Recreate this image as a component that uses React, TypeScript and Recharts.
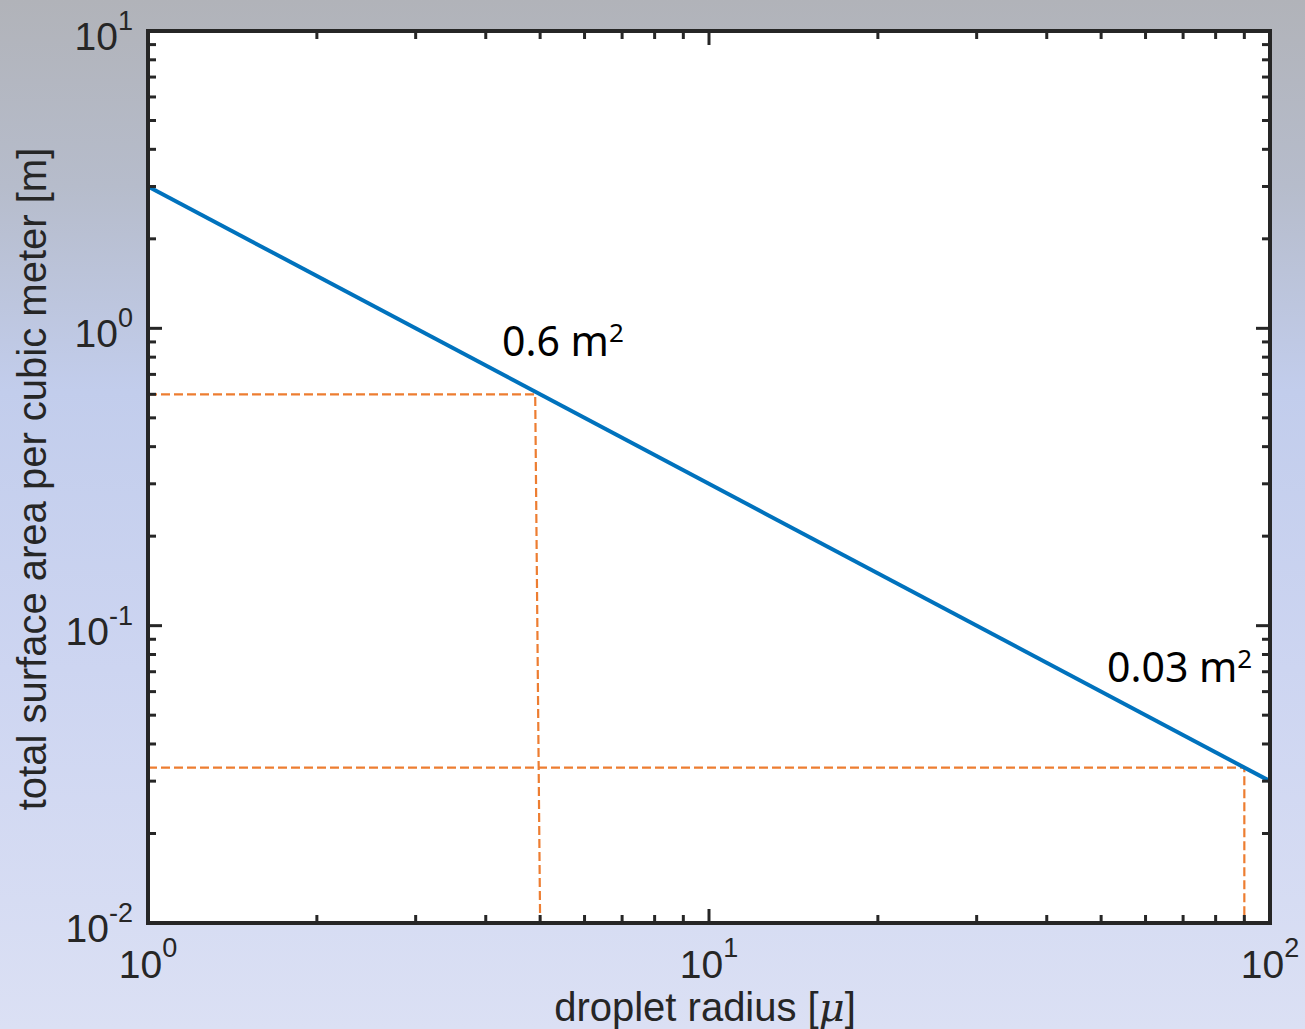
import React from 'react';
import { LineChart, Line, XAxis, YAxis } from 'recharts';

// total surface area vs droplet radius, log-log
const radiusTicks = [1, 2, 3, 4, 5, 6, 7, 8, 9, 10, 20, 30, 40, 50, 60, 70, 80, 90, 100];
const areaTicks = [
  0.01, 0.02, 0.03, 0.04, 0.05, 0.06, 0.07, 0.08, 0.09,
  0.1, 0.2, 0.3, 0.4, 0.5, 0.6, 0.7, 0.8, 0.9,
  1, 2, 3, 4, 5, 6, 7, 8, 9, 10,
];

const areaCurve = [
  { x: 1, y: 3 },
  { x: 100, y: 0.03 },
];

// guide lines for the two marked points
const guide5 = [
  { x: 1, y: 0.6 },
  { x: 4.9, y: 0.6 },
  { x: 5, y: 0.01 },
];
const guide90 = [
  { x: 1, y: 0.0333 },
  { x: 90, y: 0.0333 },
  { x: 90, y: 0.01 },
];

const W = 1305;
const H = 1029;
const INK = '#262626';
const FONT = '"Liberation Sans", Helvetica, Arial, sans-serif';
const NOTE_FONT = '"Noto Sans", "Open Sans", sans-serif';

const isDecade = (v: number) => Math.abs(Math.log10(v) - Math.round(Math.log10(v))) < 1e-9;

const Pow10 = ({ v, x, y, anchor, supDy }: any) => (
  <text x={x} y={y} textAnchor={anchor} fontFamily={FONT} fontSize={39} fill={INK}>
    <tspan>10</tspan>
    <tspan dy={supDy} fontSize={27}>{String(Math.round(Math.log10(v)))}</tspan>
  </text>
);

const makeTick = (side: 'bottom' | 'top' | 'left' | 'right', labelled: boolean) => (props: any) => {
  const { x, y, payload } = props;
  const v = payload.value;
  const major = isDecade(v);
  const len = major ? 14 : 8;
  let line;
  if (side === 'bottom') line = <line x1={x} x2={x} y1={y} y2={y - len} />;
  else if (side === 'top') line = <line x1={x} x2={x} y1={y} y2={y + len} />;
  else if (side === 'left') line = <line x1={x} x2={x + len} y1={y} y2={y} />;
  else line = <line x1={x} x2={x - len} y1={y} y2={y} />;
  return (
    <g>
      <g stroke={INK} strokeWidth={3}>{line}</g>
      {labelled && major && side === 'bottom' && (
        <Pow10 v={v} x={x} y={y + 55} anchor="middle" supDy={-21} />
      )}
      {labelled && major && side === 'left' && (
        <Pow10 v={v} x={x - 15} y={y + 19} anchor="end" supDy={-20} />
      )}
    </g>
  );
};

const axisLine = { stroke: INK, strokeWidth: 4, strokeLinecap: 'square' as const };

const App: React.FC = () => {
  return (
    <div
      style={{
        position: 'absolute',
        left: 0,
        top: 0,
        width: W,
        height: H,
        background:
          'linear-gradient(180deg, #b1b3b9 0%, #b6bccb 18%, #c2cdec 38%, #cdd5f1 65%, #dbe0f4 100%)',
      }}
    >
      <LineChart width={W} height={H} margin={{ top: 0, right: 0, bottom: 0, left: 0 }}>
        <rect x={148} y={31} width={1121} height={892} fill="#ffffff" />
        <XAxis
          xAxisId="b"
          dataKey="x"
          type="number"
          scale="log"
          domain={[1, 100]}
          ticks={radiusTicks}
          interval={0}
          orientation="bottom"
          height={106}
          tickSize={0}
          tickMargin={0}
          tickLine={false}
          axisLine={axisLine}
          tick={makeTick('bottom', true)}
          allowDataOverflow
        />
        <XAxis
          xAxisId="t"
          dataKey="x"
          type="number"
          scale="log"
          domain={[1, 100]}
          ticks={radiusTicks}
          interval={0}
          orientation="top"
          height={31}
          tickSize={0}
          tickMargin={0}
          tickLine={false}
          axisLine={axisLine}
          tick={makeTick('top', false)}
          allowDataOverflow
        />
        <YAxis
          yAxisId="l"
          dataKey="y"
          type="number"
          scale="log"
          domain={[0.01, 10]}
          ticks={areaTicks}
          interval={0}
          orientation="left"
          width={148}
          tickSize={0}
          tickMargin={0}
          tickLine={false}
          axisLine={axisLine}
          tick={makeTick('left', true)}
          allowDataOverflow
        />
        <YAxis
          yAxisId="r"
          dataKey="y"
          type="number"
          scale="log"
          domain={[0.01, 10]}
          ticks={areaTicks}
          interval={0}
          orientation="right"
          width={35}
          tickSize={0}
          tickMargin={0}
          tickLine={false}
          axisLine={axisLine}
          tick={makeTick('right', false)}
          allowDataOverflow
        />
        <Line
          xAxisId="b"
          yAxisId="l"
          data={guide5}
          dataKey="y"
          stroke="#ed7d31"
          strokeWidth={2.2}
          strokeDasharray="9 4"
          dot={false}
          type="linear"
          isAnimationActive={false}
        />
        <Line
          xAxisId="b"
          yAxisId="l"
          data={guide90}
          dataKey="y"
          stroke="#ed7d31"
          strokeWidth={2.2}
          strokeDasharray="9 4"
          dot={false}
          type="linear"
          isAnimationActive={false}
        />
        <Line
          xAxisId="b"
          yAxisId="l"
          data={areaCurve}
          dataKey="y"
          stroke="#0072bd"
          strokeWidth={4}
          dot={false}
          type="linear"
          isAnimationActive={false}
        />
      </LineChart>
      <svg
        width={W}
        height={H}
        style={{ position: 'absolute', left: 0, top: 0, pointerEvents: 'none' }}
      >
        <text
          x={705}
          y={1021}
          textAnchor="middle"
          fontFamily={FONT}
          fontSize={40}
          fill={INK}
        >
          droplet radius [<tspan fontStyle="italic" fontFamily='"DejaVu Serif", serif'>μ</tspan>]
        </text>
        <text
          transform="translate(46 479) rotate(-90)"
          textAnchor="middle"
          fontFamily={FONT}
          fontSize={40}
          fill={INK}
        >
          total surface area per cubic meter [m]
        </text>
        <text x={502} y={356} fontFamily={NOTE_FONT} fontSize={41} fill="#000">
          0.6 m<tspan dy={-14} fontSize={26}>2</tspan>
        </text>
        <text x={1107} y={682} fontFamily={NOTE_FONT} fontSize={41} fill="#000">
          0.03 m<tspan dy={-14} fontSize={26}>2</tspan>
        </text>
      </svg>
    </div>
  );
};

export default App;
